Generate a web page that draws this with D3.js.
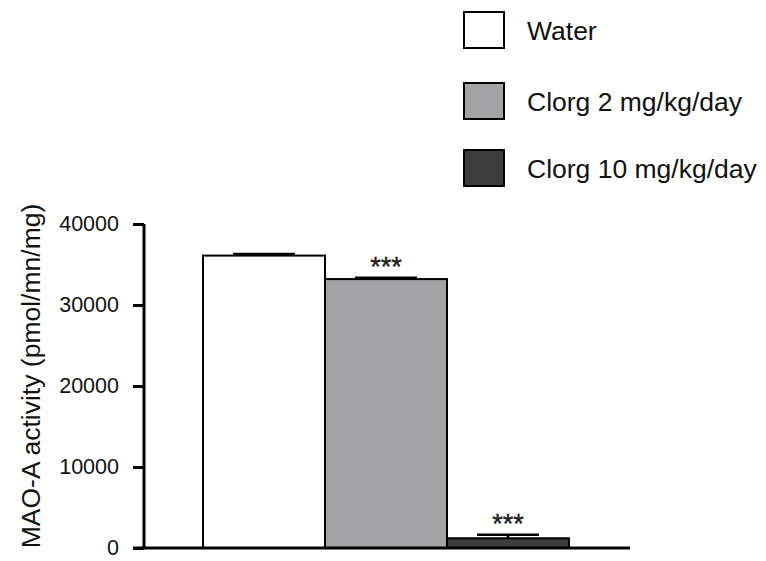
<!DOCTYPE html>
<html>
<head>
<meta charset="utf-8">
<script src="https://cdn.jsdelivr.net/npm/d3@7"></script>
<style>
  html, body { margin: 0; padding: 0; background: #fff; }
  svg { display: block; font-family: "Liberation Sans", Arial, sans-serif; }
</style>
</head>
<body>
<svg id="chart" width="766" height="561"></svg>
<script>
// MAO-A activity by treatment group (mean and SEM)
const groups = ["Water", "Clorg 2 mg/kg/day", "Clorg 10 mg/kg/day"];
const means = [36100, 33200, 1200];
const errors = [200, 150, 450];
const signif = ["", "***", "***"];
const fills = ["#ffffff", "#a3a3a6", "#3d3d3d"];
const yTicks = [0, 10000, 20000, 30000, 40000];

const svg = d3.select("#chart");

const y = d3.scaleLinear().domain([0, 40000]).range([548, 224]);
const x = d3.scaleBand().domain(groups).range([203, 569]).paddingInner(0).paddingOuter(0);

// Bars
svg.append("g").selectAll("rect")
  .data(groups)
  .join("rect")
  .attr("x", d => x(d))
  .attr("y", (d, i) => y(means[i]))
  .attr("width", x.bandwidth())
  .attr("height", (d, i) => y(0) - y(means[i]))
  .attr("fill", (d, i) => fills[i])
  .attr("stroke", "#000")
  .attr("stroke-width", 2);

// Error bars (upper only)
const eb = svg.append("g").attr("stroke", "#000").attr("stroke-width", 2.5);
groups.forEach((g, i) => {
  const cx = x(g) + x.bandwidth() / 2;
  eb.append("line")
    .attr("x1", cx).attr("x2", cx)
    .attr("y1", y(means[i])).attr("y2", y(means[i] + errors[i]));
  eb.append("line")
    .attr("x1", cx - 31).attr("x2", cx + 31)
    .attr("y1", y(means[i] + errors[i])).attr("y2", y(means[i] + errors[i]));
});

// Significance markers
svg.append("g").selectAll("text")
  .data(groups)
  .join("text")
  .attr("x", d => x(d) + x.bandwidth() / 2)
  .attr("y", (d, i) => y(means[i] + errors[i]) - 2)
  .attr("text-anchor", "middle")
  .attr("font-size", 27)
  .attr("fill", "#222")
  .attr("stroke", "#222")
  .attr("stroke-width", 0.4)
  .text((d, i) => signif[i]);

// Y axis
const yAxis = svg.append("g")
  .attr("transform", "translate(144,0)")
  .call(d3.axisLeft(y).tickValues(yTicks).tickSize(11).tickPadding(14).tickFormat(d3.format("d")));
yAxis.select(".domain").attr("stroke", "#000").attr("stroke-width", 3);
yAxis.selectAll(".tick line").attr("stroke", "#000").attr("stroke-width", 3);
yAxis.selectAll(".tick text")
  .attr("font-size", 21.5)
  .attr("font-family", "Liberation Sans, Arial, sans-serif")
  .attr("fill", "#111");
yAxis.select(".domain").attr("d", `M0,${y(0)}V${y(40000)}`);

// X axis baseline
svg.append("line")
  .attr("x1", 133).attr("x2", 630)
  .attr("y1", y(0)).attr("y2", y(0))
  .attr("stroke", "#000").attr("stroke-width", 3);

// Y axis title
svg.append("text")
  .attr("transform", `translate(40,${(y(0) + y(40000)) / 2 - 10}) rotate(-90)`)
  .attr("text-anchor", "middle")
  .attr("font-size", 26.5)
  .attr("fill", "#111")
  .text("MAO-A activity (pmol/mn/mg)");

// Legend
const legend = svg.append("g");
const legendTop = [12, 83, 150];
groups.forEach((g, i) => {
  legend.append("rect")
    .attr("x", 464).attr("y", legendTop[i])
    .attr("width", 40).attr("height", 36)
    .attr("fill", fills[i])
    .attr("stroke", "#000").attr("stroke-width", 2);
  legend.append("text")
    .attr("x", 527).attr("y", legendTop[i] + 28)
    .attr("font-size", 26.5)
    .attr("fill", "#111")
    .text(g);
});
</script>
</body>
</html>
